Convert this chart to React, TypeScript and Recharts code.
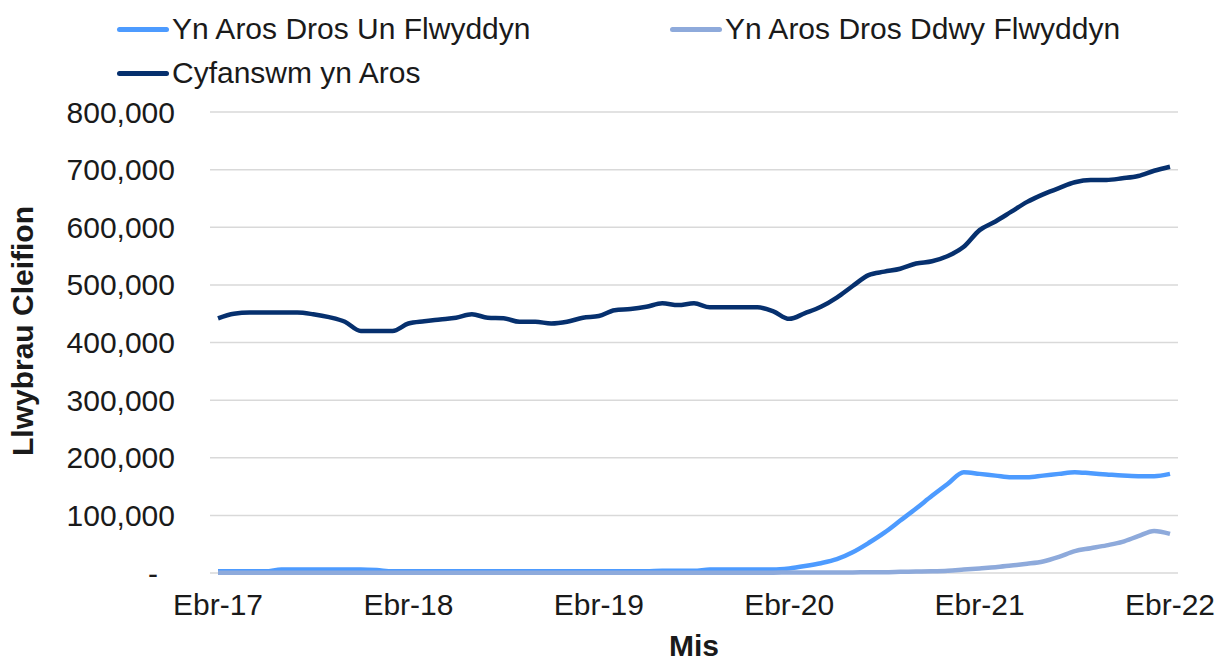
import { LineChart, Line, XAxis, YAxis, CartesianGrid, Legend, Label } from 'recharts'

// Ebr-17 .. Ebr-22, one point per month
const months = [
  'Ebr-17', 'Mai-17', 'Meh-17', 'Gor-17', 'Awst-17', 'Medi-17', 'Hyd-17', 'Tach-17', 'Rhag-17', 'Ion-18', 'Chwe-18', 'Maw-18',
  'Ebr-18', 'Mai-18', 'Meh-18', 'Gor-18', 'Awst-18', 'Medi-18', 'Hyd-18', 'Tach-18', 'Rhag-18', 'Ion-19', 'Chwe-19', 'Maw-19',
  'Ebr-19', 'Mai-19', 'Meh-19', 'Gor-19', 'Awst-19', 'Medi-19', 'Hyd-19', 'Tach-19', 'Rhag-19', 'Ion-20', 'Chwe-20', 'Maw-20',
  'Ebr-20', 'Mai-20', 'Meh-20', 'Gor-20', 'Awst-20', 'Medi-20', 'Hyd-20', 'Tach-20', 'Rhag-20', 'Ion-21', 'Chwe-21', 'Maw-21',
  'Ebr-21', 'Mai-21', 'Meh-21', 'Gor-21', 'Awst-21', 'Medi-21', 'Hyd-21', 'Tach-21', 'Rhag-21', 'Ion-22', 'Chwe-22', 'Maw-22',
  'Ebr-22',
]

const overOneYear = [
  3000, 3000, 3000, 3000, 6000, 6000, 6000, 6000, 6000, 6000, 5000, 3000,
  3000, 3000, 3000, 3000, 3000, 3000, 3000, 3000, 3000, 3000, 3000, 3000,
  3000, 3000, 3000, 3000, 4000, 4000, 4000, 6000, 6000, 6000, 6000, 6000,
  8000, 12000, 17000, 24000, 36000, 52000, 70000, 91000, 112000, 134000, 155000, 175000,
  172000, 169000, 166000, 166000, 169000, 172000, 175000, 173000, 171000, 169000, 168000, 168000,
  172000,
]

const overTwoYears = [
  500, 500, 500, 500, 500, 500, 500, 500, 500, 500, 500, 500,
  500, 500, 500, 500, 500, 500, 500, 500, 500, 500, 500, 500,
  500, 500, 500, 500, 500, 500, 500, 500, 500, 500, 500, 500,
  1000, 1000, 1000, 1000, 1000, 1500, 1500, 2000, 2500, 3000, 4000, 6000,
  8000, 10000, 13000, 16000, 20000, 28000, 38000, 43000, 48000, 54000, 64000, 73000,
  68000,
]

const totalWaiting = [
  442000, 450000, 452000, 452000, 452000, 452000, 449000, 444000, 436000, 420000, 420000, 420000,
  433000, 437000, 440000, 443000, 449000, 443000, 442000, 436000, 436000, 433000, 436000, 443000,
  446000, 456000, 458000, 462000, 468000, 465000, 468000, 461000, 461000, 461000, 461000, 454000,
  441000, 451000, 462000, 478000, 498000, 517000, 523000, 528000, 537000, 541000, 550000, 566000,
  595000, 610000, 627000, 644000, 657000, 668000, 678000, 682000, 682000, 685000, 689000, 698000,
  705000,
]

const xTicks = ['Ebr-17', 'Ebr-18', 'Ebr-19', 'Ebr-20', 'Ebr-21', 'Ebr-22']
const yTicks = [0, 100000, 200000, 300000, 400000, 500000, 600000, 700000, 800000]

const data = months.map((m, i) => ({
  month: m,
  un: overOneYear[i],
  ddwy: overTwoYears[i],
  total: totalWaiting[i],
}))

const FONT = '"Liberation Sans", Arial, sans-serif'
const TEXT = '#1a1a1a'
const UN = '#4d9bff'
const DDWY = '#8eaadb'
const TOTAL = '#06306e'

const legendItems = [
  { name: 'Yn Aros Dros Un Flwyddyn', color: UN, left: 117, top: 29 },
  { name: 'Yn Aros Dros Ddwy Flwyddyn', color: DDWY, left: 670, top: 29 },
  { name: 'Cyfanswm yn Aros', color: TOTAL, left: 117, top: 73 },
]

const renderLegend = () => (
  <div style={{ position: 'relative', width: 1226, height: 100 }}>
    {legendItems.map((it) => (
      <div
        key={it.name}
        style={{
          position: 'absolute',
          left: it.left,
          top: it.top - 18,
          height: 36,
          display: 'flex',
          alignItems: 'center',
          fontFamily: FONT,
          fontSize: 30,
          color: TEXT,
          whiteSpace: 'nowrap',
        }}
      >
        <span style={{ display: 'inline-block', width: 52, height: 5, borderRadius: 3, background: it.color, marginRight: 3 }} />
        {it.name}
      </div>
    ))}
  </div>
)

const YTick = (props: any) => {
  const { x, y, payload } = props
  const v = payload.value as number
  return (
    <text x={v === 0 ? x - 17 : x} y={y} dy="0.35em" textAnchor="end" fill={TEXT} fontSize={30} fontFamily={FONT}>
      {v === 0 ? '-' : v.toLocaleString('en-US')}
    </text>
  )
}

const App = () => {
  return (
    <div style={{ position: 'absolute', left: 0, top: 0, width: 1226, height: 662, overflow: 'hidden' }}>
      <LineChart width={1226} height={662} data={data} margin={{ top: 112, right: 48, left: 0, bottom: 0 }}>
        <CartesianGrid vertical={false} stroke="#d9d9d9" strokeWidth={1.5} />
        <XAxis
          dataKey="month"
          ticks={xTicks}
          interval={0}
          height={89}
          padding={{ left: 8, right: 8 }}
          axisLine={false}
          tickLine={false}
          tickSize={0}
          tickMargin={21}
          tick={{ fill: TEXT, fontSize: 30, fontFamily: FONT }}
        >
          <Label
            content={({ viewBox }: any) => (
              <text
                x={viewBox.x + viewBox.width / 2}
                y={656}
                textAnchor="middle"
                fontSize={30}
                fontWeight="bold"
                fontFamily={FONT}
                fill={TEXT}
              >
                Mis
              </text>
            )}
          />
        </XAxis>
        <YAxis
          width={210}
          domain={[0, 800000]}
          ticks={yTicks}
          interval={0}
          axisLine={false}
          tickLine={false}
          tickSize={0}
          tickMargin={35}
          tick={<YTick />}
        >
          <Label
            content={() => (
              <text
                x={33}
                y={331}
                transform="rotate(-90, 33, 331)"
                textAnchor="middle"
                fontSize={30}
                fontWeight="bold"
                fontFamily={FONT}
                fill={TEXT}
              >
                Llwybrau Cleifion
              </text>
            )}
          />
        </YAxis>
        <Legend
          layout="vertical"
          align="center"
          verticalAlign="middle"
          wrapperStyle={{ top: 0, left: 0, width: 1226, height: 100 }}
          content={renderLegend}
        />
        <Line type="monotone" dataKey="un" name="Yn Aros Dros Un Flwyddyn" stroke={UN} strokeWidth={4.5} dot={false} isAnimationActive={false} />
        <Line type="monotone" dataKey="ddwy" name="Yn Aros Dros Ddwy Flwyddyn" stroke={DDWY} strokeWidth={4.5} dot={false} isAnimationActive={false} />
        <Line type="monotone" dataKey="total" name="Cyfanswm yn Aros" stroke={TOTAL} strokeWidth={4.5} dot={false} isAnimationActive={false} />
      </LineChart>
    </div>
  )
}

export default App
